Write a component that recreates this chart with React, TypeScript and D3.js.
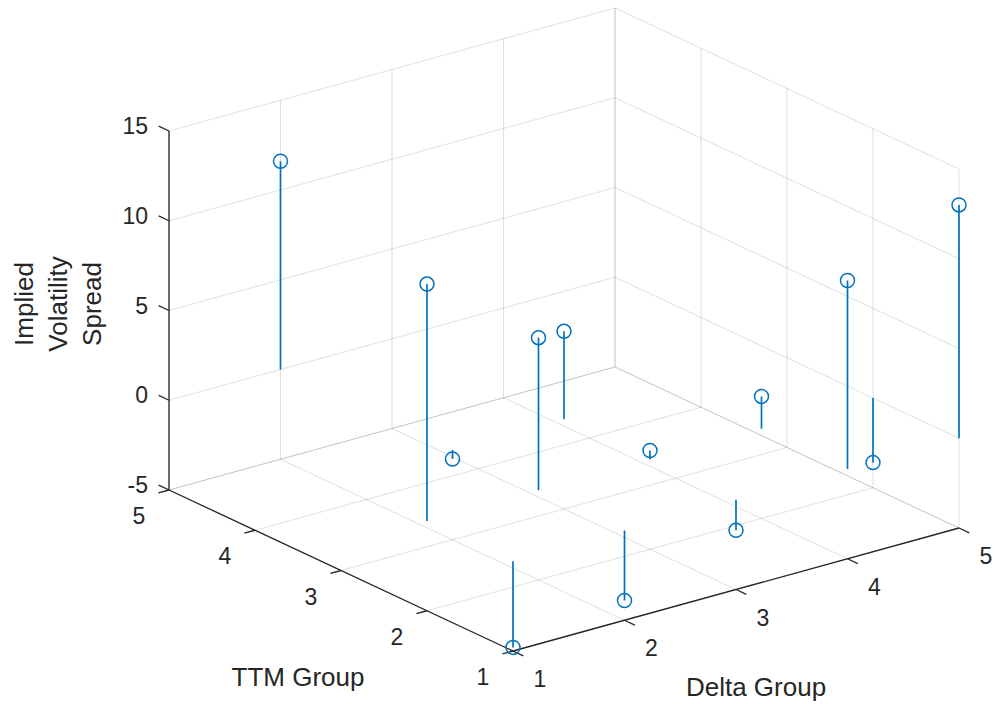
import * as d3 from "d3";
import React, {useEffect, useRef} from "react";

// stem3 data: one stem per (delta, ttm) cell
const deltaGroup = [2, 1, 2, 2, 3, 3, 4, 4, 5, 5, 3, 2, 1];
const ttmGroup = [5, 2, 3, 2, 3, 2, 2, 1, 2, 1, 1, 1, 1];
const ivSpread = [11.6, 13.2, -0.5, 8.5, 4.9, 0.5, 1.8, 10.5, -3.6, 13.0, -1.7, -3.9, -4.8];

const deltaTicks = [1, 2, 3, 4, 5];
const ttmTicks = [1, 2, 3, 4, 5];
const zTicks = [-5, 0, 5, 10, 15];

const W = 995, H = 704;
const FONT = "'Liberation Sans', Arial, Helvetica, sans-serif";
const AXIS = "#262626";
const BLUE = "#0072BD";

const App = () => {
    const ref = useRef(null);

    useEffect(() => {
        const svg = d3.select(ref.current);
        svg.selectAll("*").remove();

        // oblique (orthographic) projection: each data axis contributes a screen offset
        const ox = 513, oy = 651;
        const dx = d3.scaleLinear().domain([1, 5]).range([0, 446]);
        const dy = d3.scaleLinear().domain([1, 5]).range([0, -123]);
        const tx = d3.scaleLinear().domain([1, 5]).range([0, -344]);
        const ty = d3.scaleLinear().domain([1, 5]).range([0, -161]);
        const zy = d3.scaleLinear().domain([-5, 15]).range([0, -359]);

        const P = (d, t, z) => [ox + dx(d) + tx(t), oy + dy(d) + ty(t) + zy(z)];

        const seg = (g, a, b, stroke, opacity, width) => g.append("line")
            .attr("x1", a[0]).attr("y1", a[1])
            .attr("x2", b[0]).attr("y2", b[1])
            .attr("stroke", stroke)
            .attr("stroke-opacity", opacity)
            .attr("stroke-width", width);

        const [zMin, zMax] = [zTicks[0], zTicks[zTicks.length - 1]];

        // grid on floor and the two back walls
        const grid = svg.append("g");
        ttmTicks.forEach(t => seg(grid, P(1, t, zMin), P(5, t, zMin), AXIS, 0.14, 1));
        deltaTicks.forEach(d => seg(grid, P(d, 1, zMin), P(d, 5, zMin), AXIS, 0.14, 1));
        deltaTicks.forEach(d => seg(grid, P(d, 5, zMin), P(d, 5, zMax), AXIS, 0.14, 1));
        zTicks.forEach(z => seg(grid, P(1, 5, z), P(5, 5, z), AXIS, 0.14, 1));
        ttmTicks.forEach(t => seg(grid, P(5, t, zMin), P(5, t, zMax), AXIS, 0.14, 1));
        zTicks.forEach(z => seg(grid, P(5, 1, z), P(5, 5, z), AXIS, 0.14, 1));

        // axis lines
        const axes = svg.append("g");
        seg(axes, P(1, 5, zMin), P(1, 5, zMax), AXIS, 1, 1.3);
        seg(axes, P(1, 1, zMin), P(1, 5, zMin), AXIS, 1, 1.3);
        seg(axes, P(1, 1, zMin), P(5, 1, zMin), AXIS, 1, 1.3);

        // ticks point outward
        zTicks.forEach(z => seg(axes, P(1, 5, z), P(1, 5.12, z), AXIS, 1, 1.3));
        ttmTicks.forEach(t => seg(axes, P(1, t, zMin), P(0.905, t, zMin), AXIS, 1, 1.3));
        deltaTicks.forEach(d => seg(axes, P(d, 1, zMin), P(d, 0.88, zMin), AXIS, 1, 1.3));

        const label = (x, y, txt, anchor, size) => svg.append("text")
            .attr("x", x).attr("y", y)
            .attr("dy", "0.35em")
            .attr("text-anchor", anchor)
            .attr("font-family", FONT)
            .attr("font-size", size)
            .attr("fill", AXIS)
            .text(txt);

        zTicks.forEach(z => {
            const [x, y] = P(1, 5, z);
            label(x - 21, y - 5, z, "end", 23);
        });
        ttmTicks.forEach(t => {
            const [x, y] = P(1, t, zMin);
            label(x - 30, y + 26, t, "middle", 23);
        });
        deltaTicks.forEach(d => {
            const [x, y] = P(d, 1, zMin);
            label(x + 27, y + 28, d, "middle", 23);
        });

        label(298, 677, "TTM Group", "middle", 26);
        label(756, 687, "Delta Group", "middle", 26);

        ["Implied", "Volatility", "Spread"].forEach((s, i) => {
            svg.append("text")
                .attr("transform", `translate(${24 + i * 34},304) rotate(-90)`)
                .attr("dy", "0.35em")
                .attr("text-anchor", "middle")
                .attr("font-family", FONT)
                .attr("font-size", 26)
                .attr("fill", AXIS)
                .text(s);
        });

        // stems from the z = 0 baseline, then circle markers
        const stems = svg.append("g");
        ivSpread.forEach((v, i) => {
            seg(stems, P(deltaGroup[i], ttmGroup[i], 0), P(deltaGroup[i], ttmGroup[i], v), BLUE, 1, 1.7);
        });
        ivSpread.forEach((v, i) => {
            const [x, y] = P(deltaGroup[i], ttmGroup[i], v);
            stems.append("circle")
                .attr("cx", x).attr("cy", y)
                .attr("r", 7)
                .attr("fill", "none")
                .attr("stroke", BLUE)
                .attr("stroke-width", 1.5);
        });
    }, []);

    return (
        <svg ref={ref} width={W} height={H}
             style={{position: "absolute", left: 0, top: 0, background: "#fff"}}/>
    );
};

export default App;
